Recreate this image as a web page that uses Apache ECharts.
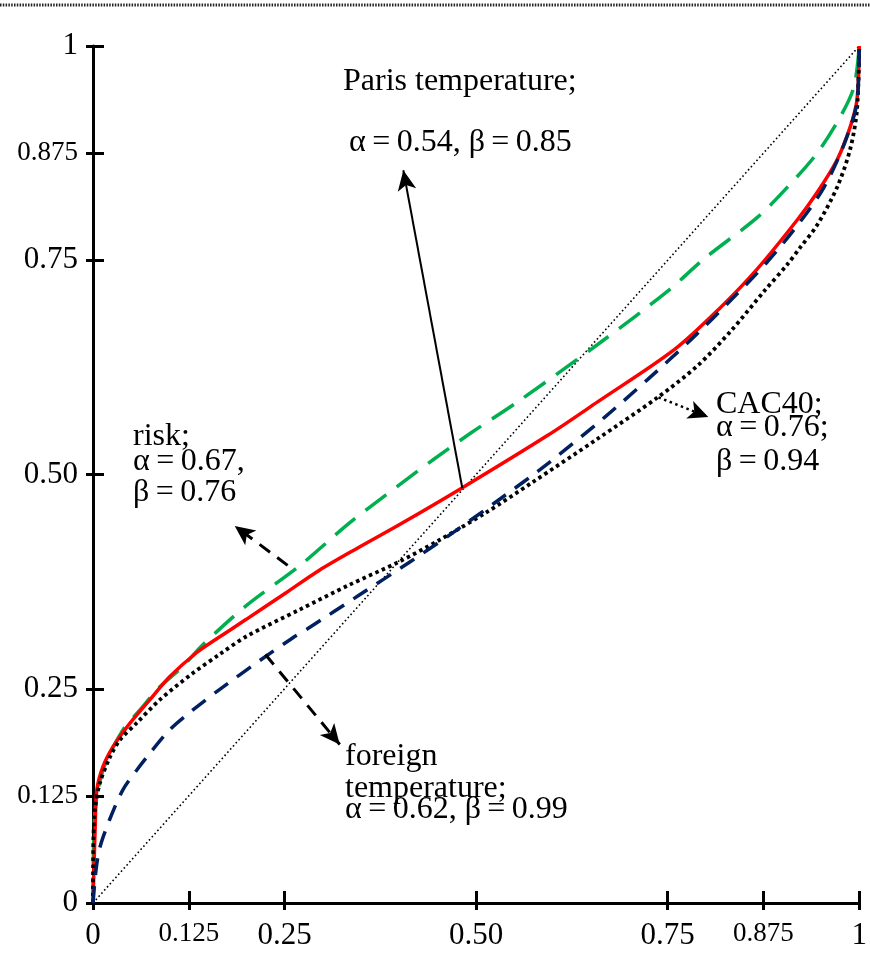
<!DOCTYPE html>
<html>
<head>
<meta charset="utf-8">
<script src="https://cdn.jsdelivr.net/npm/echarts@6/dist/echarts.min.js"></script>
<style>
  html, body { margin: 0; padding: 0; background: #fff; }
  #chart { width: 870px; height: 955px; }
</style>
</head>
<body>
<div id="chart"></div>
<script>
// Axis ticks (probability p on x, decision weight w on y)
const tickValues = [0, 0.125, 0.25, 0.5, 0.75, 0.875, 1];
const tickLabels = ['0', '0.125', '0.25', '0.50', '0.75', '0.875', '1'];

// risk: alpha = 0.67, beta = 0.76
const riskP = [0, 0.002, 0.013, 0.039, 0.061, 0.087, 0.116, 0.143, 0.2, 0.269, 0.334, 0.382, 0.442, 0.494, 0.553, 0.659, 0.75, 0.798, 0.867, 0.906, 0.945, 0.975, 0.993, 1];
const riskW = [0, 0.10, 0.155, 0.202, 0.225, 0.252, 0.275, 0.301, 0.347, 0.393, 0.443, 0.476, 0.516, 0.549, 0.584, 0.652, 0.714, 0.752, 0.800, 0.835, 0.875, 0.917, 0.952, 1];

// Paris temperature: alpha = 0.54, beta = 0.85
const parisP = [0, 0.003, 0.005, 0.013, 0.026, 0.044, 0.074, 0.100, 0.135, 0.161, 0.2, 0.252, 0.295, 0.345, 0.399, 0.481, 0.594, 0.659, 0.759, 0.819, 0.867, 0.919, 0.945, 0.971, 0.988, 0.997, 1];
const parisW = [0, 0.093, 0.132, 0.159, 0.182, 0.205, 0.237, 0.264, 0.292, 0.308, 0.331, 0.362, 0.388, 0.414, 0.441, 0.484, 0.546, 0.585, 0.646, 0.695, 0.740, 0.797, 0.829, 0.867, 0.905, 0.937, 1];

// foreign temperature: alpha = 0.62, beta = 0.99
const foreignP = [0, 0.004, 0.009, 0.022, 0.039, 0.057, 0.070, 0.100, 0.130, 0.165, 0.221, 0.260, 0.280, 0.347, 0.412, 0.468, 0.529, 0.594, 0.668, 0.724, 0.780, 0.832, 0.880, 0.923, 0.954, 0.980, 0.997, 1];
const foreignW = [0, 0.039, 0.065, 0.098, 0.132, 0.155, 0.170, 0.202, 0.225, 0.249, 0.285, 0.309, 0.320, 0.359, 0.397, 0.431, 0.470, 0.513, 0.567, 0.611, 0.657, 0.703, 0.748, 0.795, 0.835, 0.885, 0.934, 1];

// CAC40: alpha = 0.76, beta = 0.94
const cacP = [0, 0.0005, 0.003, 0.009, 0.022, 0.035, 0.057, 0.087, 0.130, 0.165, 0.200, 0.269, 0.334, 0.399, 0.451, 0.512, 0.572, 0.659, 0.737, 0.789, 0.832, 0.876, 0.906, 0.923, 0.945, 0.971, 0.988, 0.997, 1];
const cacW = [0, 0.074, 0.112, 0.140, 0.170, 0.190, 0.210, 0.237, 0.268, 0.290, 0.311, 0.342, 0.371, 0.398, 0.423, 0.455, 0.490, 0.542, 0.590, 0.627, 0.667, 0.714, 0.745, 0.765, 0.791, 0.835, 0.879, 0.925, 1];

// 45-degree reference line
const diagP = [0, 1];
const diagW = [0, 1];

const zip = (a, b) => a.map((v, i) => [v, b[i]]);

const FONT = '"Liberation Serif", "Times New Roman", serif';
const smallTicks = [0.125, 0.875];

function tickLabel(v) {
  const i = tickValues.findIndex(t => Math.abs(t - v) < 1e-9);
  if (i < 0) return '';
  return smallTicks.some(t => Math.abs(t - v) < 1e-9) ? '{s|' + tickLabels[i] + '}' : '{b|' + tickLabels[i] + '}';
}
const labelRich = {
  b: { fontFamily: FONT, fontSize: 31, color: '#000' },
  s: { fontFamily: FONT, fontSize: 27, color: '#000' }
};

const chart = echarts.init(document.getElementById('chart'), null, { renderer: 'canvas' });

const axisBase = { type: 'value', min: 0, max: 1, splitLine: { show: false } };

const curveStyle = { type: 'line', showSymbol: false, clip: false, smooth: 0.3 };

const TXT = '32px ' + FONT;
function note(text, x, y) {
  return { type: 'text', silent: true, style: { text: text, x: x, y: y, font: TXT, fill: '#000', verticalAlign: 'middle' } };
}

const option = {
  animation: false,
  backgroundColor: '#fff',
  grid: { left: 93, top: 46, right: 8, bottom: 52, containLabel: false },
  xAxis: [
    Object.assign({}, axisBase, {
      position: 'bottom',
      axisLine: { show: true, onZero: false, lineStyle: { color: '#000', width: 3 } },
      axisTick: { show: true, inside: true, length: 12, customValues: tickValues, lineStyle: { color: '#000', width: 3 } },
      axisLabel: { show: true, customValues: tickValues, margin: 17, formatter: tickLabel, rich: labelRich }
    }),
    Object.assign({}, axisBase, {
      position: 'bottom',
      axisLine: { show: false, onZero: false },
      axisTick: { show: true, inside: false, length: 7, customValues: tickValues, lineStyle: { color: '#000', width: 3 } },
      axisLabel: { show: false }
    })
  ],
  yAxis: [
    Object.assign({}, axisBase, {
      position: 'left',
      axisLine: { show: true, onZero: false, lineStyle: { color: '#000', width: 3 } },
      axisTick: { show: true, inside: true, length: 11, customValues: tickValues, lineStyle: { color: '#000', width: 3 } },
      axisLabel: { show: true, customValues: tickValues, margin: 15, formatter: tickLabel, rich: labelRich }
    }),
    Object.assign({}, axisBase, {
      position: 'left',
      axisLine: { show: false, onZero: false },
      axisTick: { show: true, inside: false, length: 7, customValues: tickValues, lineStyle: { color: '#000', width: 3 } },
      axisLabel: { show: false }
    })
  ],
  series: [
    {
      name: 'diagonal', type: 'line', data: zip(diagP, diagW), showSymbol: false, clip: false, silent: true,
      lineStyle: { color: '#000', width: 1.6, type: [1.6, 2.6] },
      markLine: {
        silent: true, symbol: ['none', 'arrow'], symbolSize: [14, 20],
        label: { show: false },
        data: [
          // Paris temperature
          [{ coord: [0.482, 0.484], lineStyle: { type: 'solid', width: 2, color: '#000' } }, { coord: [0.405, 0.855] }],
          // risk
          [{ coord: [0.254, 0.394], lineStyle: { type: [13, 9], width: 3, color: '#000' } }, { coord: [0.185, 0.440] }],
          // foreign temperature
          [{ coord: [0.225, 0.290], lineStyle: { type: [13, 9], width: 3, color: '#000' } }, { coord: [0.322, 0.185] }],
          // CAC40
          [{ coord: [0.738, 0.590], lineStyle: { type: [2.5, 3.5], width: 2.5, color: '#000' } }, { coord: [0.803, 0.567] }]
        ]
      }
    },
    Object.assign({}, curveStyle, {
      name: 'risk', data: zip(riskP, riskW),
      lineStyle: { color: '#00b050', width: 3.5, type: [26, 13] }
    }),
    Object.assign({}, curveStyle, {
      name: 'Paris temperature', data: zip(parisP, parisW),
      lineStyle: { color: '#ff0000', width: 3.5, type: 'solid' }
    }),
    Object.assign({}, curveStyle, {
      name: 'CAC40', data: zip(cacP, cacW),
      lineStyle: { color: '#000', width: 3.8, type: [3.5, 3.5], cap: 'butt' }
    }),
    Object.assign({}, curveStyle, {
      name: 'foreign temperature', data: zip(foreignP, foreignW),
      lineStyle: { color: '#002060', width: 3.5, type: [17, 11] }
    })
  ],
  graphic: [
    { type: 'line', shape: { x1: 0, y1: 5, x2: 870, y2: 5 }, style: { stroke: '#222', lineWidth: 3, lineDash: [1.5, 1.3] }, silent: true },
    note('Paris temperature;', 343, 82),
    note('α\u2009=\u20090.54, β\u2009=\u20090.85', 349, 143),
    note('risk;', 133, 437),
    note('α\u2009=\u20090.67,', 133, 462),
    note('β\u2009=\u20090.76', 133, 493),
    note('CAC40;', 716, 405),
    note('α\u2009=\u20090.76;', 716, 428),
    note('β\u2009=\u20090.94', 716, 462),
    note('foreign', 345, 757),
    note('temperature;', 345, 789),
    note('α\u2009=\u20090.62, β\u2009=\u20090.99', 345, 810)
  ]
};

chart.setOption(option);
</script>
</body>
</html>
